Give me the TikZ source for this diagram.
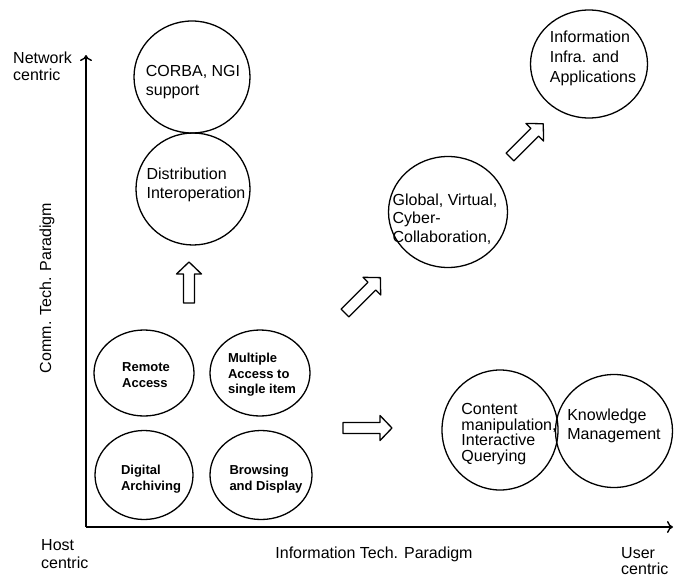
\documentclass[tikz,border=0pt]{standalone}
\usepackage{fontspec}
\setmainfont{Liberation Sans}
\usetikzlibrary{shapes.geometric,arrows.meta}
\tikzset{
  circ/.style={draw, ellipse, line width=1.3pt, inner sep=0pt},
  txt/.style={align=left, inner sep=0pt, font=\fontsize{16}{19}\selectfont},
  stxt/.style={align=left, inner sep=0pt, font=\fontsize{13}{15.5}\selectfont\bfseries},
  axis/.style={line width=1.4pt},
  blk/.style={draw, line width=1.3pt, line join=round, fill=white}
}
\newcommand\blockarrow[4]{% x, y (tail), angle, length
  \draw[blk, shift={(#1,#2)}, rotate=#3]
    (0pt,-5.5pt) -- (#4pt-12pt,-5.5pt) -- (#4pt-12pt,-12.5pt) -- (#4pt,0pt)
    -- (#4pt-12pt,12.5pt) -- (#4pt-12pt,5.5pt) -- (0pt,5.5pt) -- cycle;}
\begin{document}
\begin{tikzpicture}[x=1pt,y=-1pt]
\useasboundingbox (0,0) rectangle (676,578);
% axes
\coordinate (o) at (86,527);
\coordinate (ytop) at (86,55);
\coordinate (xend) at (673,527);
\draw[axis,-{To[length=6pt,width=12pt]}] (o) -- (ytop);
\draw[axis,-{To[length=6pt,width=12pt]}] (o) -- (xend);
% axis labels
\node[txt, anchor=west, font=\fontsize{16}{17}\selectfont] (nc) at (13,66) {Network\\centric};
\node[txt, anchor=west, font=\fontsize{16}{18}\selectfont] (hc) at (41,554) {Host\\centric};
\node[txt, anchor=west, font=\fontsize{16}{16}\selectfont] (uc) at (621,561) {User\\centric};
\node[txt] (itp) at (374,554) {Information Tech. Paradigm};
\node[txt, rotate=90] (ctp) at (47,288) {Comm. Tech. Paradigm};
% circles
\node[circ, minimum width=116pt, minimum height=112pt] (corba) at (192,77) {};
\node[circ, minimum width=114pt, minimum height=112pt] (dist) at (193,189) {};
\node[circ, minimum width=117pt, minimum height=108pt] (info) at (589,64) {};
\node[circ, minimum width=119pt, minimum height=111pt] (glob) at (448,212) {};
\node[circ, minimum width=100pt, minimum height=86pt] (remote) at (144,373) {};
\node[circ, minimum width=100pt, minimum height=86pt] (multi) at (260,373) {};
\node[circ, minimum width=98pt, minimum height=89pt] (digital) at (144,475) {};
\node[circ, minimum width=102pt, minimum height=89pt] (browse) at (261,475) {};
\node[circ, minimum width=116pt, minimum height=120pt] (content) at (500,430) {};
\node[circ, minimum width=117pt, minimum height=113pt] (know) at (614,431) {};
% circle texts
\node[txt] (tcorba) at (193,82) {CORBA, NGI\\support};
\node[txt] (tdist) at (196,185) {Distribution\\Interoperation};
\node[txt, font=\fontsize{16}{20}\selectfont] (tinfo) at (593,58) {Information\\Infra. and\\Applications};
\node[txt, font=\fontsize{16}{18.5}\selectfont] (tglob) at (445,219) {Global, Virtual,\\Cyber-\\Collaboration,};
\node[stxt] (tremote) at (146,375) {Remote\\Access};
\node[stxt] (tmulti) at (262,375) {Multiple\\Access to\\single item};
\node[stxt] (tdigital) at (151,479) {Digital\\Archiving};
\node[stxt] (tbrowse) at (266,479) {Browsing\\and Display};
\node[txt, font=\fontsize{16}{15.5}\selectfont] (tcontent) at (509,434) {Content\\manipulation,\\Interactive\\Querying};
\node[txt] (tknow) at (614,426) {Knowledge\\Management};
% block arrows
\blockarrow{189}{303}{90}{41}
\blockarrow{343}{428}{0}{49}
\blockarrow{345}{313}{45}{50}
\blockarrow{510}{157}{45}{47}
\end{tikzpicture}
\end{document}
